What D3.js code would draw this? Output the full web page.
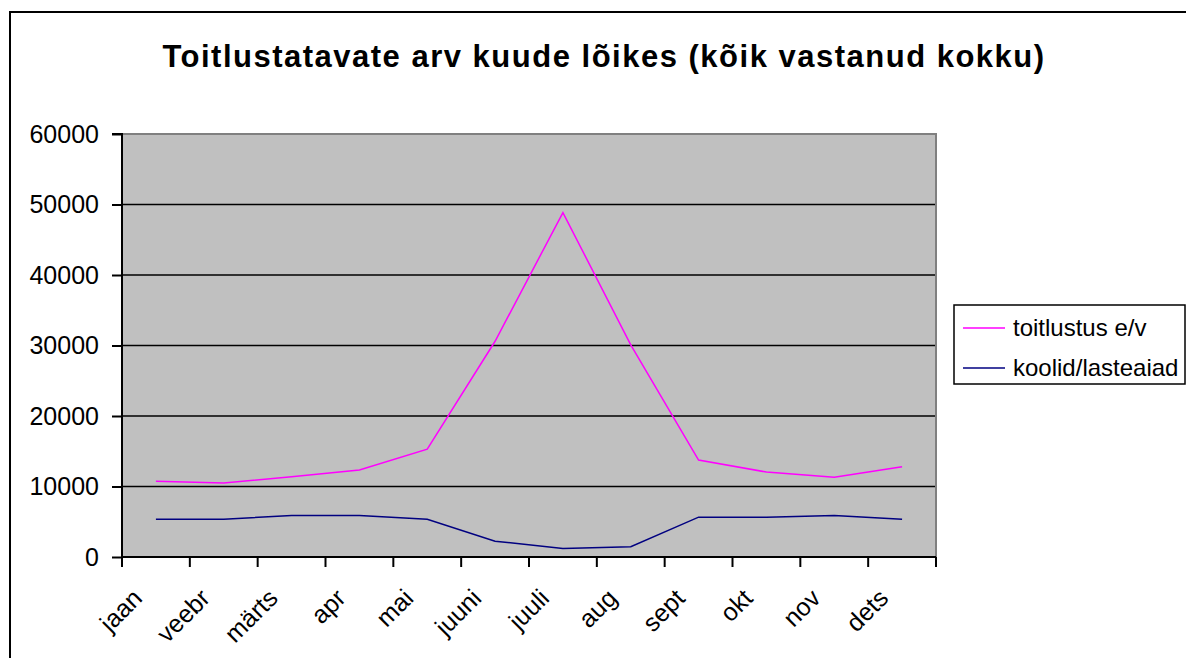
<!DOCTYPE html>
<html>
<head>
<meta charset="utf-8">
<script src="https://cdn.jsdelivr.net/npm/d3@7"></script>
<style>
  body { margin: 0; background: #fff; }
  svg text { font-family: "Liberation Sans", Arial, sans-serif; fill: #000; }
</style>
</head>
<body>
<svg id="chart" width="1186" height="658"></svg>
<script>
const months = ["jaan", "veebr", "märts", "apr", "mai", "juuni", "juuli", "aug", "sept", "okt", "nov", "dets"];
const toitlustus = [10750, 10500, 11400, 12350, 15300, 30600, 48850, 30100, 13750, 12050, 11300, 12800];
const koolid = [5350, 5350, 5900, 5900, 5350, 2250, 1200, 1450, 5650, 5650, 5900, 5350];
const yTicks = [0, 10000, 20000, 30000, 40000, 50000, 60000];
const seriesNames = ["toitlustus e/v", "koolid/lasteaiad"];
const seriesColors = ["#ff00ff", "#000080"];

const svg = d3.select("#chart");
const plot = {left: 122, top: 134, right: 936, bottom: 557};

// outer chart frame (cut off on the right and bottom in the original)
svg.append("rect")
    .attr("x", 10).attr("y", 12)
    .attr("width", 1200).attr("height", 700)
    .attr("fill", "none")
    .attr("stroke", "#000")
    .attr("stroke-width", 2);

svg.append("text")
    .attr("x", 604).attr("y", 67)
    .attr("text-anchor", "middle")
    .style("font-size", "31px")
    .style("font-weight", "bold")
    .style("letter-spacing", "1.5px")
    .text("Toitlustatavate arv kuude lõikes (kõik vastanud kokku)");

const x = d3.scaleBand().domain(months).range([plot.left, plot.right]);
const y = d3.scaleLinear().domain([0, 60000]).range([plot.bottom, plot.top]);

svg.append("rect")
    .attr("x", plot.left).attr("y", plot.top)
    .attr("width", plot.right - plot.left).attr("height", plot.bottom - plot.top)
    .attr("fill", "#c0c0c0");

// gridlines
svg.append("g").selectAll("line")
    .data(yTicks.filter(d => d > 0 && d < 60000))
    .enter().append("line")
    .attr("x1", plot.left).attr("x2", plot.right)
    .attr("y1", d => y(d)).attr("y2", d => y(d))
    .attr("stroke", "#000").attr("stroke-width", 1.5);

// grey top / right border of the plot area
svg.append("path")
    .attr("d", `M${plot.left},${plot.top}H${plot.right}V${plot.bottom}`)
    .attr("fill", "none")
    .attr("stroke", "#808080")
    .attr("stroke-width", 2);

// y axis
const yAxis = svg.append("g")
    .attr("transform", `translate(${plot.left},0)`)
    .call(d3.axisLeft(y).tickValues(yTicks).tickSize(10).tickPadding(13).tickFormat(d3.format("d")));
yAxis.select(".domain").attr("stroke", "#000").attr("stroke-width", 2).attr("d", `M-10,${plot.top}H0V${plot.bottom}`);
yAxis.selectAll(".tick line").attr("stroke", "#000").attr("stroke-width", 2);
yAxis.selectAll(".tick text").style("font-size", "25px").attr("font-family", null);

// x axis: ticks on the band boundaries
const bounds = months.map(m => x(m)).concat([plot.right]);
const xAxis = svg.append("g");
xAxis.append("line")
    .attr("x1", plot.left).attr("x2", plot.right)
    .attr("y1", plot.bottom).attr("y2", plot.bottom)
    .attr("stroke", "#000").attr("stroke-width", 2);
xAxis.selectAll(".xt").data(bounds).enter().append("line")
    .attr("x1", d => d).attr("x2", d => d)
    .attr("y1", plot.bottom).attr("y2", plot.bottom + 10)
    .attr("stroke", "#000").attr("stroke-width", 2);
xAxis.selectAll(".xl").data(months).enter().append("text")
    .attr("transform", d => `translate(${x(d) + x.bandwidth() / 2 - 25},${plot.bottom + 30}) rotate(-45)`)
    .attr("text-anchor", "end")
    .attr("dy", "0.72em")
    .style("font-size", "25px")
    .text(d => d);

// lines
const line = d3.line()
    .x((d, i) => x(months[i]) + x.bandwidth() / 2)
    .y(d => y(d));

[toitlustus, koolid].forEach((s, i) => {
    svg.append("path")
        .datum(s)
        .attr("d", line)
        .attr("fill", "none")
        .attr("stroke", seriesColors[i])
        .attr("stroke-width", 1.5);
});

// legend
const legend = svg.append("g").attr("transform", "translate(954,305)");
legend.append("rect")
    .attr("width", 231).attr("height", 79)
    .attr("fill", "#fff").attr("stroke", "#000").attr("stroke-width", 1.5);
const items = legend.selectAll(".item").data(seriesNames).enter().append("g")
    .attr("transform", (d, i) => `translate(0,${23 + i * 40})`);
items.append("line")
    .attr("x1", 9).attr("x2", 51)
    .attr("stroke", (d, i) => seriesColors[i]).attr("stroke-width", 1.5);
items.append("text")
    .attr("x", 59).attr("dy", "0.35em")
    .style("font-size", "24px")
    .text(d => d);
</script>
</body>
</html>
